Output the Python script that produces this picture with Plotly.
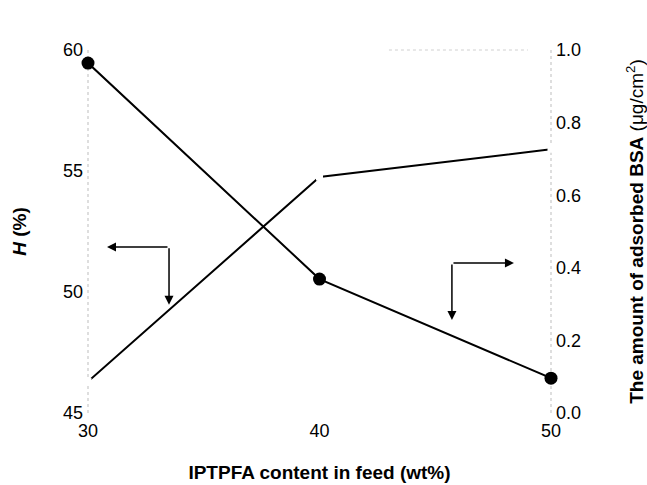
import plotly.graph_objects as go

feed = [30, 40, 50]
H_pct = [46.3, 54.75, 55.9]
bsa = [0.964, 0.369, 0.096]

left_ticks = [45, 50, 55, 60]
right_ticks = [0.0, 0.2, 0.4, 0.6, 0.8, 1.0]
x_ticks = [30, 40, 50]

fig = go.Figure()
fig.add_trace(go.Scatter(
    x=feed, y=H_pct, mode="lines+markers", cliponaxis=False,
    line=dict(color="black", width=2),
    marker=dict(symbol="square", size=7, color="white", line=dict(width=0)),
    showlegend=False, yaxis="y"))
fig.add_trace(go.Scatter(
    x=feed, y=bsa, mode="lines+markers", cliponaxis=False,
    line=dict(color="black", width=2),
    marker=dict(symbol="circle", size=13, color="black"),
    showlegend=False, yaxis="y2"))

font_tick = dict(family="Liberation Sans, Arial, sans-serif", size=18, color="black")
font_title = dict(family="Liberation Sans, Arial, sans-serif", size=19, color="black")

fig.update_layout(
    width=647, height=485,
    margin=dict(l=88, r=96, t=50, b=72),
    plot_bgcolor="white", paper_bgcolor="white",
    xaxis=dict(range=[30, 50], tickvals=x_ticks, ticktext=[str(v) for v in x_ticks],
               showgrid=False, zeroline=False, showline=False, ticks="",
               tickfont=font_tick, ticklabelstandoff=5, automargin=False,
               title=dict(text="<b>IPTPFA content in feed (wt%)</b>", font=font_title, standoff=25)),
    yaxis=dict(range=[45, 60], tickvals=left_ticks, showgrid=False, zeroline=False,
               showline=False, ticks="", ticklabelstandoff=4, automargin=False,
               tickfont=font_tick,
               title=dict(text="<b><i>H</i> (%)</b>", font=font_title, standoff=31)),
    yaxis2=dict(range=[0, 1], tickvals=right_ticks, tickformat=".1f",
                overlaying="y", side="right", showgrid=False, zeroline=False,
                showline=False, ticks="", ticklabelstandoff=4, automargin=False,
                tickfont=font_tick,
                title=dict(text="<b>The amount of adsorbed BSA</b> (μg/cm<sup>2</sup>)",
                           font=font_title, standoff=52)),
)

# faint dotted axis frame lines
for xp in (0, 1):
    fig.add_shape(type="line", xref="paper", yref="paper", x0=xp, x1=xp, y0=0, y1=1,
                  layer="below", line=dict(color="#bdbdbd", width=1, dash="dot"))
fig.add_shape(type="line", xref="paper", yref="paper", x0=0.65, x1=0.95, y0=1, y1=1,
              layer="below", line=dict(color="#d0d0d0", width=1, dash="dot"))

# Explanatory arrows (decorations, paper coordinates)
arrow_style = dict(showarrow=True, arrowhead=2, arrowsize=1.2, arrowwidth=1.5,
                   arrowcolor="black", text="", xref="paper", yref="paper")
fig.add_annotation(x=0.041, y=0.457, ax=62, ay=0, **arrow_style)
fig.add_annotation(x=0.175, y=0.298, ax=0, ay=-58, **arrow_style)
fig.add_annotation(x=0.920, y=0.413, ax=-62, ay=0, **arrow_style)
fig.add_annotation(x=0.786, y=0.256, ax=0, ay=-57, **arrow_style)

fig.write_html("out.html")
